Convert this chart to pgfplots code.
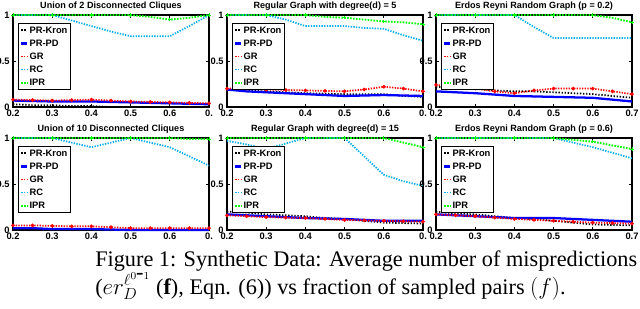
\documentclass[border=0pt]{standalone}
\usepackage{pgfplots}
\pgfplotsset{compat=1.18}
\usepackage{pgfplotstable}
\usepackage{fontspec}
\setmainfont{Liberation Serif}
\newfontfamily\arialf{Liberation Sans}

\pgfplotstableread{
x kron pd gr rc ipr
0.20 0.03 0.07 0.08 1.00 1.00
0.25 0.02 0.065 0.075 1.00 1.00
0.30 0.02 0.06 0.07 1.00 1.00
0.35 0.01 0.06 0.075 0.94 1.00
0.40 0.01 0.06 0.08 0.88 1.00
0.45 0.00 0.055 0.07 0.82 1.00
0.50 0.00 0.05 0.06 0.77 1.00
0.55 0.00 0.045 0.055 0.77 0.98
0.60 0.00 0.04 0.05 0.77 0.95
0.65 0.00 0.035 0.045 0.88 0.97
0.70 0.00 0.03 0.04 1.00 1.00
}\dA
\pgfplotstableread{
x kron pd gr rc ipr
0.20 0.19 0.19 0.20 1.00 1.00
0.25 0.18 0.17 0.20 1.00 1.00
0.30 0.17 0.16 0.19 1.00 1.00
0.35 0.16 0.15 0.185 0.95 1.00
0.40 0.15 0.14 0.18 0.88 1.00
0.45 0.145 0.13 0.175 0.88 0.98
0.50 0.14 0.12 0.17 0.88 0.97
0.55 0.14 0.125 0.19 0.86 0.95
0.60 0.14 0.13 0.22 0.85 0.93
0.65 0.12 0.125 0.20 0.78 0.92
0.70 0.11 0.12 0.17 0.72 0.90
}\dB
\pgfplotstableread{
x kron pd gr rc ipr
0.20 0.22 0.17 0.24 1.00 1.00
0.25 0.21 0.16 0.22 1.00 1.00
0.30 0.20 0.15 0.20 1.00 1.00
0.35 0.18 0.135 0.17 1.00 1.00
0.40 0.17 0.12 0.15 1.00 1.00
0.45 0.17 0.115 0.18 0.87 1.00
0.50 0.16 0.11 0.20 0.75 1.00
0.55 0.15 0.105 0.20 0.75 1.00
0.60 0.14 0.10 0.20 0.75 1.00
0.65 0.12 0.08 0.17 0.75 0.97
0.70 0.10 0.06 0.14 0.75 0.92
}\dC
\pgfplotstableread{
x kron pd gr rc ipr
0.20 0.01 0.02 0.05 1.00 1.00
0.25 0.01 0.02 0.05 1.00 1.00
0.30 0.00 0.01 0.045 1.00 1.00
0.35 0.00 0.01 0.04 0.95 1.00
0.40 0.00 0.01 0.04 0.90 1.00
0.45 0.00 0.005 0.03 0.95 1.00
0.50 0.00 0.00 0.02 1.00 1.00
0.55 0.00 0.00 0.02 0.95 1.00
0.60 0.00 0.00 0.02 0.90 1.00
0.65 0.00 0.00 0.02 0.80 0.99
0.70 0.00 0.00 0.02 0.70 0.99
}\dD
\pgfplotstableread{
x kron pd gr rc ipr
0.20 0.20 0.17 0.16 0.97 1.00
0.25 0.19 0.16 0.15 0.93 1.00
0.30 0.17 0.15 0.14 0.88 1.00
0.35 0.16 0.14 0.135 0.94 1.00
0.40 0.15 0.13 0.13 1.00 1.00
0.45 0.13 0.125 0.12 1.00 1.00
0.50 0.12 0.12 0.11 1.00 1.00
0.55 0.10 0.11 0.105 0.80 1.00
0.60 0.08 0.10 0.10 0.60 1.00
0.65 0.075 0.10 0.095 0.53 0.95
0.70 0.07 0.10 0.09 0.48 0.90
}\dE
\pgfplotstableread{
x kron pd gr rc ipr
0.20 0.20 0.17 0.17 1.00 1.00
0.25 0.18 0.16 0.16 1.00 1.00
0.30 0.17 0.15 0.15 1.00 1.00
0.35 0.15 0.14 0.135 1.00 1.00
0.40 0.13 0.13 0.12 1.00 1.00
0.45 0.12 0.13 0.11 1.00 1.00
0.50 0.10 0.13 0.10 1.00 1.00
0.55 0.08 0.12 0.09 0.95 0.98
0.60 0.06 0.11 0.08 0.90 0.96
0.65 0.055 0.10 0.075 0.84 0.92
0.70 0.05 0.09 0.07 0.78 0.88
}\dF

\pgfplotsset{
  panel/.style={
    scale only axis, width=147pt, height=69pt, anchor=north west,
    xmin=0.2, xmax=0.7, ymin=0, ymax=1,
    xtick={0.2,0.3,0.4,0.5,0.6,0.7},
    xticklabels={0.2,0.3,0.4,0.5,0.6,0.7},
    ytick={0,0.5,1}, yticklabels={0,0.5,1},
    tick align=inside, major tick length=2pt,
    xtick pos=both, ytick pos=both,
    xticklabel pos=bottom, yticklabel pos=left,
    ticklabel style={font=\arialf\bfseries\fontsize{7}{8}\selectfont},
    xticklabel style={yshift=1pt},
    yticklabel style={xshift=1pt},
    axis line style={line width=0.8pt},
    tick style={line width=0.6pt, black},
    title style={font=\arialf\bfseries\fontsize{6.8}{8}\selectfont, at={(0.5,1)}, anchor=base, yshift=-1pt},
    clip=false,
    legend cell align=left,
    legend style={at={(0.026,0.913)}, anchor=north west,
      font=\arialf\bfseries\fontsize{7}{8}\selectfont,
      draw=black, line width=0.8pt, inner sep=1.2pt, row sep=2pt,
      nodes={inner sep=0.8pt, text height=5.2pt, text depth=1pt}},
    legend image code/.code={\draw[##1] (0pt,0pt) -- (4.5pt,0pt);},
  },
  cut/.style={xticklabels={0.2,0.3,0.4,0.5,0.6,0.}},
  kron/.style={black, line width=1.3pt, dash pattern=on 1pt off 1.3pt},
  pd/.style={blue, line width=1.7pt},
  gr/.style={red, line width=1.3pt, dash pattern=on 1pt off 1pt, mark=*, mark size=0.6pt, mark options={solid}},
  rc/.style={cyan, line width=1.3pt, dash pattern=on 1pt off 1pt},
  ipr/.style={green, line width=1.4pt, dash pattern=on 1.2pt off 1pt, mark=+, mark size=1.2pt, mark repeat=2, mark options={solid, line width=0.6pt}},
}

\newcommand{\fiveplots}[1]{%
  \addplot[kron] table[x=x,y=kron]{#1};
  \addplot[pd] table[x=x,y=pd]{#1};
  \addplot[gr] table[x=x,y=gr]{#1};
  \addplot[rc] table[x=x,y=rc]{#1};
  \addplot[ipr] table[x=x,y=ipr]{#1};
  \legend{PR-Kron,PR-PD,GR,RC,IPR}%
}

\begin{document}
\begin{tikzpicture}
\useasboundingbox (0,0) rectangle (480pt,-231pt);
\begin{axis}[panel, cut, at={(9.75pt,-11.25pt)}, title={Union of 2 Disconnected Cliques}]
\fiveplots{\dA}
\end{axis}
\begin{axis}[panel, cut, at={(170.25pt,-11.25pt)}, title={Regular Graph with degree(d) = 5}]
\fiveplots{\dB}
\end{axis}
\begin{axis}[panel, at={(327pt,-11.25pt)}, title={Erdos Reyni Random Graph (p = 0.2)}]
\fiveplots{\dC}
\end{axis}
\begin{axis}[panel, cut, at={(9.75pt,-103.5pt)}, title={Union of 10 Disconnected Cliques}]
\fiveplots{\dD}
\end{axis}
\begin{axis}[panel, cut, at={(170.25pt,-103.5pt)}, title={Regular Graph with degree(d) = 15}]
\fiveplots{\dE}
\end{axis}
\begin{axis}[panel, at={(327pt,-103.5pt)}, title={Erdos Reyni Random Graph (p = 0.6)}]
\fiveplots{\dF}
\end{axis}
\node[anchor=base west, inner sep=0pt, font=\fontsize{16.7}{21}\selectfont] at (71.25pt,-199.5pt)
  {Figure 1: Synthetic Data: Average number of mispredictions};
\node[anchor=base west, inner sep=0pt, font=\fontsize{16.7}{21}\selectfont] at (71.25pt,-220.5pt)
  {(\(er_D^{\ell^{0\mbox{-}1}}\) (\(\mathbf{f}\)), Eqn. (6)) vs fraction of sampled pairs \((f)\).};
\end{tikzpicture}
\end{document}
